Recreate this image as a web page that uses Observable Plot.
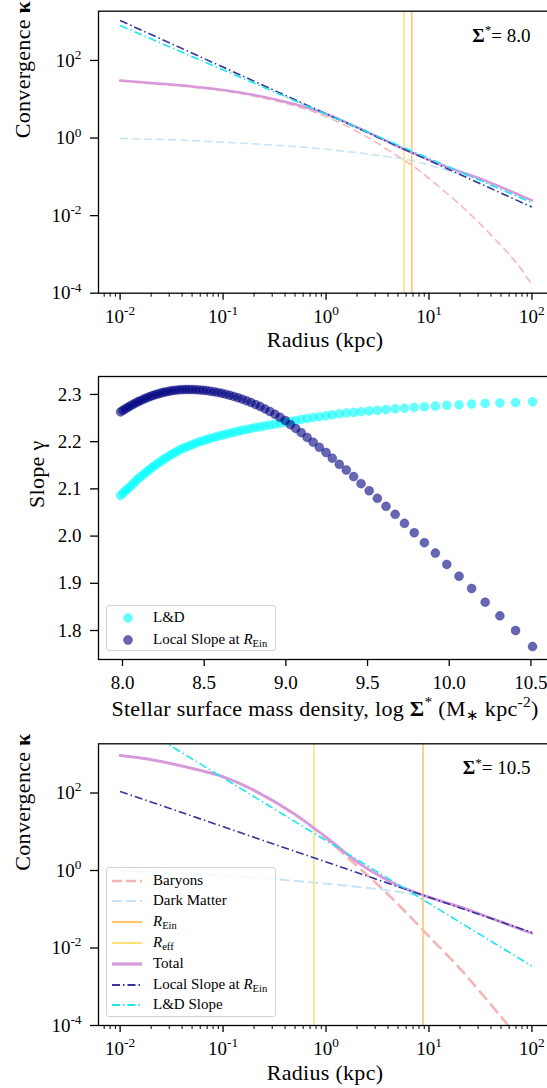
<!DOCTYPE html>
<html><head><meta charset="utf-8">
<script src="https://cdn.jsdelivr.net/npm/d3@7"></script>
<script src="https://cdn.jsdelivr.net/npm/@observablehq/plot@0.6"></script>
<style>
html,body{margin:0;padding:0;background:#fff;}
#fig{width:547px;height:1088px;overflow:hidden;position:relative;}
#fig, #fig *, #fig svg text, #fig svg tspan{font-family:"Liberation Serif","Times New Roman",Times,serif !important;}
.panel{position:relative;width:551px;}
.panel svg{display:block;}
.legend{position:absolute;background:rgba(255,255,255,0.8);border:1.5px solid #d2d2d2;border-radius:3px;box-sizing:border-box;}
.row{position:absolute;left:0;height:0;width:100%;}
.row svg{position:absolute;overflow:visible;}
.row span{position:absolute;left:46px;top:0;transform:translateY(-52%);white-space:nowrap;font-size:15px;line-height:1;color:#000;}
.row sub{font-size:70%;vertical-align:-0.3em;line-height:0;}
</style></head><body><div id="fig"></div>
<script>
// ---------- data ----------
const radius = [0.01, 0.02, 0.05, 0.1, 0.2, 0.5, 1, 2, 3, 5, 7, 10, 20, 30, 50, 70, 100];
const slopeRadius = [0.01, 100];

// Sigma* = 8.0
const baryons8    = [29.5, 25.1, 20.4, 16.6, 12.0, 6.76, 3.55, 1.48, 0.794, 0.339, 0.19, 0.0912, 0.0191, 0.00692, 0.0017, 0.00063, 0.000166];
const darkMatter8 = [0.977, 0.933, 0.861, 0.776, 0.708, 0.603, 0.513, 0.417, 0.363, 0.302, 0.257, 0.2, 0.117, 0.0871, 0.0525, 0.0363, 0.0243];
const total8      = [30.5, 26.3, 21.4, 17.4, 12.9, 7.41, 4.17, 1.91, 1.15, 0.603, 0.407, 0.275, 0.135, 0.0938, 0.0543, 0.0372, 0.0247];
const localSlope8 = [1072, 0.0166];
const ldSlope8    = [794, 0.0215];
const rEff8 = 5.73, rEin8 = 6.8;

// Sigma* = 10.5
const baryons105    = [932, 723, 431, 262, 116, 27.7, 6.78, 1.30, 0.50, 0.135, 0.0537, 0.02, 0.00295, 0.00085, 0.00017, 0.0000562, 0.0000158];
const darkMatter105 = [0.977, 0.912, 0.813, 0.741, 0.661, 0.537, 0.457, 0.38, 0.339, 0.282, 0.24, 0.195, 0.112, 0.0794, 0.0468, 0.0331, 0.0234];
const total105      = [933, 724, 432, 263, 117, 28.2, 7.24, 1.68, 0.851, 0.412, 0.288, 0.206, 0.115, 0.0783, 0.0473, 0.0339, 0.024];
const localSlope105 = [110, 0.0251];
const ldSlope105    = [10300, 0.00341];
const rEff105 = 0.764, rEin105 = 8.75;

// middle panel: slope vs log Sigma*
const logSigma = [7.988, 8.003, 8.018, 8.033, 8.049, 8.065, 8.081, 8.097, 8.113, 8.130, 8.147, 8.164, 8.181, 8.198, 8.216, 8.234, 8.252, 8.270, 8.289, 8.308, 8.327, 8.347, 8.367, 8.387, 8.407, 8.428, 8.449, 8.470, 8.492, 8.514, 8.537, 8.560, 8.583, 8.607, 8.631, 8.656, 8.681, 8.707, 8.733, 8.760, 8.787, 8.815, 8.843, 8.872, 8.902, 8.933, 8.964, 8.996, 9.028, 9.060, 9.094, 9.130, 9.167, 9.205, 9.246, 9.284, 9.327, 9.370, 9.415, 9.460, 9.510, 9.560, 9.613, 9.669, 9.726, 9.786, 9.848, 9.915, 9.985, 10.060, 10.137, 10.220, 10.310, 10.406, 10.510];
const slopeLocal = [2.263, 2.2664, 2.2696, 2.2728, 2.276, 2.2791, 2.282, 2.2848, 2.2874, 2.2901, 2.2926, 2.2949, 2.2971, 2.2991, 2.301, 2.3028, 2.3044, 2.3058, 2.3071, 2.3081, 2.309, 2.3097, 2.3102, 2.3105, 2.3105, 2.3104, 2.3101, 2.3096, 2.3089, 2.3081, 2.307, 2.3058, 2.3043, 2.3026, 2.3006, 2.2984, 2.2959, 2.2931, 2.29, 2.2865, 2.2828, 2.2786, 2.2742, 2.2693, 2.2639, 2.2579, 2.2517, 2.245, 2.236, 2.228, 2.219, 2.209, 2.199, 2.188, 2.177, 2.165, 2.152, 2.140, 2.126, 2.111, 2.096, 2.080, 2.063, 2.046, 2.027, 2.007, 1.986, 1.964, 1.940, 1.915, 1.889, 1.860, 1.831, 1.800, 1.766];
const slopeLD = [2.086, 2.091, 2.096, 2.1005, 2.1055, 2.111, 2.1165, 2.122, 2.1265, 2.131, 2.136, 2.1405, 2.145, 2.1495, 2.154, 2.158, 2.1625, 2.1665, 2.1705, 2.1745, 2.178, 2.182, 2.1855, 2.188, 2.191, 2.194, 2.1968, 2.1994, 2.202, 2.2044, 2.2067, 2.209, 2.2112, 2.2134, 2.2156, 2.2178, 2.2199, 2.222, 2.224, 2.226, 2.2279, 2.2298, 2.2316, 2.2334, 2.2352, 2.237, 2.2388, 2.241, 2.2428, 2.245, 2.247, 2.249, 2.251, 2.253, 2.255, 2.257, 2.259, 2.2605, 2.262, 2.2635, 2.265, 2.2665, 2.268, 2.2695, 2.271, 2.2725, 2.274, 2.2755, 2.277, 2.278, 2.2795, 2.281, 2.282, 2.283, 2.2845];

// ticks
const logXTicks = [0.01, 0.1, 1, 10, 100];
const logXMinor = [0.007, 0.008, 0.009, 0.02, 0.03, 0.04, 0.05, 0.06, 0.07, 0.08, 0.09, 0.2, 0.3, 0.4, 0.5, 0.6, 0.7, 0.8, 0.9, 2, 3, 4, 5, 6, 7, 8, 9, 20, 30, 40, 50, 60, 70, 80, 90];
const logYTicks = [1e-4, 1e-2, 1, 100];
const sigmaTicks = [8.0, 8.5, 9.0, 9.5, 10.0, 10.5];
const slopeTicks = [1.8, 1.9, 2.0, 2.1, 2.2, 2.3];

const C = {bary:"#f5b5b5", dm:"#c6e3f8", rein:"#ffc670", reff:"#ffe27a", total:"#d898dc",
           local:"#34349c", ld:"#1ae6ee", ldDot:"#00ffff", localDot:"#000080"};
const DASHDOT = "8,3,1.5,3";
const SERIF = '"Liberation Serif", "Times New Roman", Times, serif';

// ---------- helpers ----------
function richify(svg) {
  d3.select(svg).selectAll("text").each(function () {
    const raw = this.textContent;
    const fs = parseFloat(getComputedStyle(this).fontSize) || 19;
    d3.select(this).attr("font-family", SERIF);
    if (fs >= 21) d3.select(this).attr("letter-spacing", "0.3");
    if (!/\^\{|_\{|\*\*/.test(raw)) return;
    const el = d3.select(this);
    el.selectAll("*").remove(); el.text(null);
    const re = /\*\*(.+?)\*\*|\^\{(.+?)\}|_\{(.+?)\}|([^*^_]+)/g;
    let m, shift = 0;
    while ((m = re.exec(raw))) {
      const ts = el.append("tspan");
      let target = 0;
      if (m[1] !== undefined) ts.text(m[1]).attr("font-weight", "bold");
      else if (m[2] !== undefined) { ts.text(m[2]).attr("font-size", fs * 0.7); target = -0.4 * fs; }
      else if (m[3] !== undefined) { ts.text(m[3]).attr("font-size", fs * 0.7); target = 0.22 * fs; }
      else ts.text(m[4]);
      if (target !== shift) { ts.attr("dy", target - shift); shift = target; }
    }
  });
}

const baseStyle = {fontFamily: SERIF, fontSize: "19px", color: "#000", background: "transparent", overflow: "visible"};
const expFmt = d => `10^{${Math.round(Math.log10(d))}}`;

function logPanel(cfg) {
  const prof = radius.map((r, i) => ({r, baryons: cfg.baryons[i], dm: cfg.dm[i], total: cfg.total[i]}));
  const sl = slopeRadius.map((r, i) => ({r, local: cfg.local[i], ld: cfg.ld[i]}));
  return Plot.plot({
    width: 551, height: cfg.height, marginLeft: 98, marginRight: 0,
    marginTop: cfg.mt, marginBottom: cfg.mb,
    style: baseStyle,
    x: {type: "log", domain: [10 ** -2.21, 10 ** 2.19]},
    y: {type: "log", domain: [1e-4, 10 ** 3.27]},
    marks: [
      Plot.line(prof, {x: "r", y: "baryons", stroke: C.bary, strokeWidth: cfg.baryW, strokeDasharray: cfg.baryDash, strokeLinecap: "butt", curve: "catmull-rom", clip: true}),
      Plot.line(prof, {x: "r", y: "dm", stroke: C.dm, strokeWidth: cfg.dmW, strokeDasharray: cfg.dmDash, strokeLinecap: "butt", curve: "catmull-rom", clip: true}),
      Plot.ruleX([cfg.rein], {x: d => d, stroke: C.rein, strokeWidth: 1.6}),
      Plot.ruleX([cfg.reff], {x: d => d, stroke: C.reff, strokeWidth: 1.6}),
      Plot.line(prof, {x: "r", y: "total", stroke: C.total, strokeWidth: cfg.totW, curve: "catmull-rom", clip: true}),
      Plot.line(sl, {x: "r", y: "local", stroke: C.local, strokeWidth: 1.6, strokeDasharray: DASHDOT, strokeLinecap: "butt", clip: true}),
      Plot.line(sl, {x: "r", y: "ld", stroke: C.ld, strokeWidth: 1.6, strokeDasharray: DASHDOT, strokeLinecap: "butt", clip: true}),
      Plot.frame({stroke: "#000", strokeWidth: 1.3}),
      Plot.axisX({ticks: logXMinor, tickSize: 4, tickFormat: () => "", strokeWidth: 1, label: null}),
      Plot.axisX({ticks: logXTicks, tickSize: 7, tickPadding: 9, tickFormat: expFmt, fontSize: 19, strokeWidth: 1.3, label: null}),
      Plot.axisY({ticks: logYTicks, tickSize: 8, tickPadding: 9, tickFormat: expFmt, fontSize: 19, strokeWidth: 1.3, label: null}),
      Plot.text([cfg.note], {text: d => d, frameAnchor: "top-right", textAnchor: "end", dx: -21, dy: 17, fontSize: 19}),
      Plot.text(["Radius (kpc)"], {text: d => d, frameAnchor: "bottom", dy: 54, fontSize: 22}),
      Plot.text(["Convergence **κ**"], {text: d => d, frameAnchor: "left", rotate: -90, dx: -76, dy: -14, fontSize: 22})
    ]
  });
}

function addLegend(panel, box, rows) {
  const lg = document.createElement("div");
  lg.className = "legend";
  Object.assign(lg.style, {left: box.left + "px", top: box.top + "px", width: box.width + "px", height: box.height + "px"});
  rows.forEach(r => {
    const row = document.createElement("div");
    row.className = "row";
    row.style.top = r.y + "px";
    let sample;
    if (r.dot) {
      sample = `<svg width="12" height="12" style="left:15px;top:-6px"><circle cx="6" cy="6" r="4.5" fill="${r.color}" fill-opacity="0.6" stroke="${r.color}" stroke-opacity="0.3"/></svg>`;
    } else {
      sample = `<svg width="32" height="10" style="left:4.5px;top:-5px"><line x1="0" y1="5" x2="30" y2="5" stroke="${r.color}" stroke-width="${r.w}" ${r.dash ? `stroke-dasharray="${r.dash}"` : ""}/></svg>`;
    }
    row.innerHTML = sample + `<span>${r.label}</span>`;
    lg.appendChild(row);
  });
  panel.appendChild(lg);
}

// ---------- build ----------
const fig = document.getElementById("fig");

const p1 = document.createElement("div"); p1.className = "panel"; fig.appendChild(p1);
const svg1 = logPanel({height: 340, mt: 10.7, mb: 47.3, baryons: baryons8, dm: darkMatter8, total: total8,
  local: localSlope8, ld: ldSlope8, reff: rEff8, rein: rEin8, note: "**Σ**^{*}= 8.0",
  baryW: 1.5, baryDash: "8,4", dmW: 1.5, dmDash: "8,4", totW: 2.5});
p1.appendChild(svg1); richify(svg1);

const p2 = document.createElement("div"); p2.className = "panel"; fig.appendChild(p2);
const pts = logSigma.map((s, i) => ({s, ld: slopeLD[i], local: slopeLocal[i]}));
const svg2 = Plot.plot({
  width: 551, height: 390, marginLeft: 98, marginRight: 0, marginTop: 36, marginBottom: 71,
  style: baseStyle,
  x: {domain: [7.853, 10.626]},
  y: {domain: [1.7386, 2.338]},
  marks: [
    Plot.dot(pts, {x: "s", y: "ld", r: 4.5, fill: C.ldDot, fillOpacity: 0.6, stroke: C.ldDot, strokeOpacity: 0.25, strokeWidth: 1}),
    Plot.dot(pts, {x: "s", y: "local", r: 4.5, fill: C.localDot, fillOpacity: 0.6, stroke: C.localDot, strokeOpacity: 0.25, strokeWidth: 1}),
    Plot.frame({stroke: "#000", strokeWidth: 1.3}),
    Plot.axisX({ticks: sigmaTicks, tickSize: 7, tickPadding: 9, tickFormat: d3.format(".1f"), fontSize: 19, strokeWidth: 1.3, label: null}),
    Plot.axisY({ticks: slopeTicks, tickSize: 8, tickPadding: 9, tickFormat: d3.format(".1f"), fontSize: 19, strokeWidth: 1.3, label: null}),
    Plot.text(["Stellar surface mass density, log **Σ**^{*} (M_{∗} kpc^{-2})"], {text: d => d, frameAnchor: "bottom", dy: 56, fontSize: 22}),
    Plot.text(["Slope γ"], {text: d => d, frameAnchor: "left", rotate: -90, dx: -62, dy: -10, fontSize: 22})
  ]
});
p2.appendChild(svg2); richify(svg2);
addLegend(p2, {left: 106, top: 265, width: 170, height: 46}, [
  {y: 11.7, dot: true, color: C.ldDot, label: "L&amp;D"},
  {y: 34.3, dot: true, color: C.localDot, label: "Local Slope at <i>R</i><sub>Ein</sub>"}
]);

const p3 = document.createElement("div"); p3.className = "panel"; fig.appendChild(p3);
const svg3 = logPanel({height: 358, mt: 13.3, mb: 63, baryons: baryons105, dm: darkMatter105, total: total105,
  local: localSlope105, ld: ldSlope105, reff: rEff105, rein: rEin105, note: "**Σ**^{*}= 10.5",
  baryW: 2.6, baryDash: "12,5", dmW: 2, dmDash: "10,4.5", totW: 2.8});
p3.appendChild(svg3); richify(svg3);
addLegend(p3, {left: 106, top: 137, width: 170, height: 150}, [
  {y: 12.5, color: C.bary, w: 2.4, dash: "10,4", label: "Baryons"},
  {y: 33.3, color: C.dm, w: 2.2, dash: "10,4", label: "Dark Matter"},
  {y: 54.1, color: C.rein, w: 2.2, label: "<i>R</i><sub>Ein</sub>"},
  {y: 74.9, color: C.reff, w: 2.2, label: "<i>R</i><sub>eff</sub>"},
  {y: 95.7, color: C.total, w: 3.2, label: "Total"},
  {y: 116.5, color: C.local, w: 1.8, dash: DASHDOT, label: "Local Slope at <i>R</i><sub>Ein</sub>"},
  {y: 137.3, color: C.ld, w: 1.8, dash: DASHDOT, label: "L&amp;D Slope"}
]);
</script></body></html>
